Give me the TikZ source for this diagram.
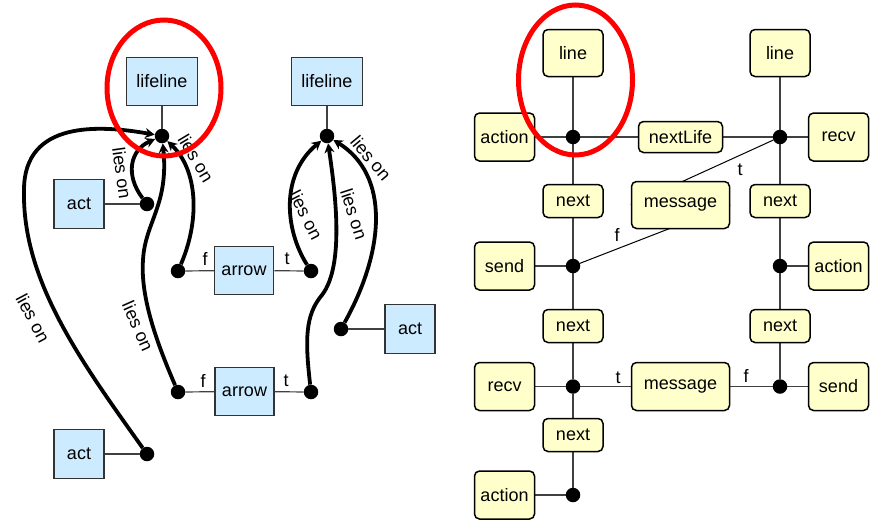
\documentclass[tikz,border=0pt]{standalone}
\usepackage{fontspec}
\setmainfont{Liberation Sans}
\usetikzlibrary{arrows.meta,backgrounds}
\definecolor{lblue}{HTML}{CCEBFF}
\definecolor{lyellow}{HTML}{FFFFCC}
\definecolor{edgegray}{HTML}{404040}
\begin{document}
\begin{tikzpicture}[x=1pt,y=-1pt,
  every node/.style={font=\fontsize{18}{21}\selectfont},
  bluebox/.style={draw=black!80, line width=1.5pt, fill=lblue, inner sep=0pt},
  yelbox/.style={draw=black, line width=1.5pt, fill=lyellow, rounded corners=5pt, inner sep=0pt},
  joint/.style={circle, fill=black, inner sep=0pt, minimum size=14.5pt},
  link/.style={draw=edgegray, line width=1.2pt},
  lieson/.style={line width=3.8pt, -{Stealth[length=9.5pt,width=10pt]}},
  tag/.style={inner sep=0pt},
  ring/.style={draw=red, line width=5pt}
]
\useasboundingbox (0,0) rectangle (874,520);

% ---------- left: object diagram ----------
\node[bluebox, minimum width=71pt, minimum height=48pt] (ll1) at (162,81.5) {lifeline};
\node[bluebox, minimum width=71pt, minimum height=48pt] (ll2) at (327,81.5) {lifeline};
\node[joint] (d1) at (162,136) {};
\node[joint] (d2) at (327,136) {};

\node[bluebox, minimum width=50pt, minimum height=49pt] (act1) at (79,204) {act};
\node[joint] (a1) at (147,204) {};

\node[bluebox, minimum width=59pt, minimum height=48pt] (arr1) at (244,270.5) {arrow};
\node[joint] (fl1) at (178,271) {};
\node[joint] (tl1) at (311,271) {};

\node[bluebox, minimum width=59pt, minimum height=48pt] (arr2) at (244.5,391.5) {arrow};
\node[joint] (fl2) at (178,392) {};
\node[joint] (tl2) at (311,392) {};

\node[bluebox, minimum width=50pt, minimum height=49pt] (act2) at (410,329) {act};
\node[joint] (a2) at (341,329) {};

\node[bluebox, minimum width=50pt, minimum height=49pt] (act3) at (79,454) {act};
\node[joint] (a3) at (147,454) {};

\draw[link] (ll1) -- (d1);
\draw[link] (ll2) -- (d2);
\draw[link] (act1) -- (a1);
\draw[link] (act2) -- (a2);
\draw[link] (act3) -- (a3);
\draw[link] (arr1) -- (fl1);
\draw[link] (arr1) -- (tl1);
\draw[link] (arr2) -- (fl2);
\draw[link] (arr2) -- (tl2);

\node[tag] (f1) at (205,259) {f};
\node[tag] (t1) at (287,259) {t};
\node[tag] (f2) at (203,381) {f};
\node[tag] (t2) at (286,381) {t};

% lies-on links
\draw[lieson] (a3) .. controls (80,360) and (22,280) .. (24,190)
  .. controls (24,120) and (100,125) .. (d1);
\draw[lieson] (a1) .. controls (125,175) and (130,150) .. (d1);
\draw[lieson] (fl2) .. controls (160,350) and (140,300) .. (143,260)
  .. controls (145,222) and (169,205) .. (d1);
\draw[lieson] (fl1) .. controls (200,220) and (198,170) .. (d1);
\draw[lieson] (tl1) .. controls (285,230) and (280,175) .. (d2);
\draw[lieson] (tl2) .. controls (305,340) and (305,315) .. (322,295)
  .. controls (345,265) and (335,190) .. (d2);
\draw[lieson] (a2) .. controls (385,250) and (390,175) .. (d2);

\node[tag, rotate=-62] (lo1) at (33,318) {lies on};
\node[tag, rotate=-82] (lo2) at (122,173) {lies on};
\node[tag, rotate=-66] (lo3) at (138,326) {lies on};
\node[tag, rotate=-59] (lo4) at (196,158) {lies on};
\node[tag, rotate=-63] (lo5) at (306,215) {lies on};
\node[tag, rotate=-72] (lo6) at (354,214) {lies on};
\node[tag, rotate=-50] (lo7) at (371,158) {lies on};

% ---------- right: graph view ----------
\node[yelbox, minimum width=60pt, minimum height=47pt] (line1) at (573,53) {line};
\node[yelbox, minimum width=60pt, minimum height=47pt] (line2) at (780,53) {line};

\node[yelbox, minimum width=60pt, minimum height=48pt] (actT) at (504.5,137) {action};
\node[joint] (dA) at (573,137) {};
\node[yelbox, minimum width=84pt, minimum height=31pt] (nlife) at (680.5,137) {nextLife};
\node[joint] (dB) at (780,137) {};
\node[yelbox, minimum width=60pt, minimum height=48pt] (recvT) at (838.5,137) {recv};

\node[yelbox, minimum width=60pt, minimum height=33pt] (nx1) at (573,201) {next};
\node[yelbox, minimum width=98pt, minimum height=47pt] (msg1) at (680.5,205) {message};
\node[yelbox, minimum width=60pt, minimum height=33pt] (nx2) at (780,201) {next};

\node[yelbox, minimum width=60pt, minimum height=48pt] (sendL) at (504.5,266) {send};
\node[joint] (dC) at (573,266) {};
\node[joint] (dD) at (780,266) {};
\node[yelbox, minimum width=60pt, minimum height=48pt] (actR) at (838.5,266) {action};

\node[yelbox, minimum width=60pt, minimum height=33pt] (nx3) at (573,326) {next};
\node[yelbox, minimum width=60pt, minimum height=33pt] (nx4) at (780,326) {next};

\node[yelbox, minimum width=60pt, minimum height=48pt] (recvL) at (504.5,386.5) {recv};
\node[joint] (dE) at (573,386.5) {};
\node[yelbox, minimum width=98pt, minimum height=48pt] (msg2) at (680.5,386.5) {message};
\node[joint] (dF) at (780,386.5) {};
\node[yelbox, minimum width=60pt, minimum height=48pt] (sendR) at (838.5,386.5) {send};

\node[yelbox, minimum width=60pt, minimum height=33pt] (nx5) at (573,435) {next};

\node[yelbox, minimum width=60pt, minimum height=48pt] (actB) at (504.5,495) {action};
\node[joint] (dG) at (573,495) {};

\begin{pgfonlayer}{background}
  \draw[link] (line1) -- (dA) -- (nx1) -- (dC) -- (nx3) -- (dE) -- (nx5) -- (dG);
  \draw[link] (line2) -- (dB) -- (nx2) -- (dD) -- (nx4) -- (dF);
  \draw[link] (actT) -- (dA) -- (nlife) -- (dB) -- (recvT);
  \draw[link] (sendL) -- (dC);
  \draw[link] (dD) -- (actR);
  \draw[link] (recvL) -- (dE) -- (msg2) -- (dF) -- (sendR);
  \draw[link] (actB) -- (dG);
  \draw[link, line width=1pt, draw=black] (dB) -- (msg1.west);
  \draw[link, line width=1pt, draw=black] (msg1.east) -- (dC);
\end{pgfonlayer}

\node[tag] (tm1) at (740,170) {t};
\node[tag] (fm1) at (617,235) {f};
\node[tag] (tm2) at (618,378) {t};
\node[tag] (fm2) at (746,376) {f};

% highlight rings
\draw[ring] (164,88) ellipse [x radius=57, y radius=68];
\draw[ring] (575.5,80) ellipse [x radius=57, y radius=75];
\end{tikzpicture}
\end{document}
